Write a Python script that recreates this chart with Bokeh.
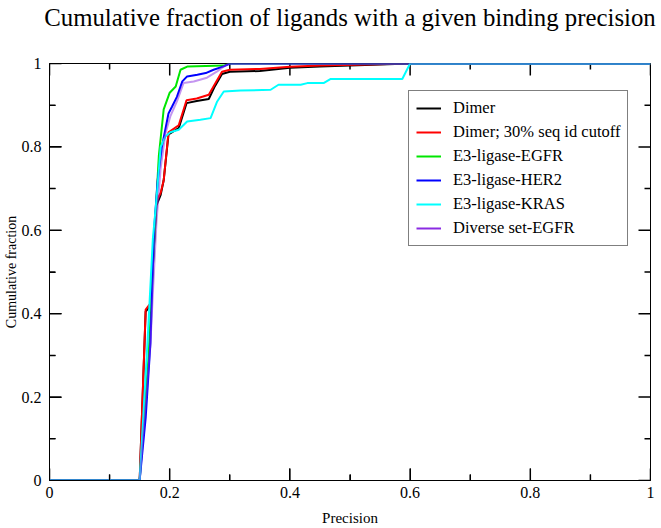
from bokeh.plotting import figure
from bokeh.models import (FixedTicker, CustomJSTickFormatter, Legend, LegendItem, Range1d,
                          LinearAxis)
from bokeh.embed import file_html
from bokeh.resources import INLINE

# ---- data ----
dimer_x = [0, 0.15, 0.16, 0.168, 0.178, 0.185, 0.19, 0.198, 0.215, 0.228, 0.245, 0.265,
           0.275, 0.287, 0.30, 0.35, 0.40, 0.45, 0.60, 1.0]
dimer_y = [0, 0, 0.405, 0.42, 0.66, 0.685, 0.72, 0.83, 0.845, 0.905, 0.91, 0.915,
           0.945, 0.975, 0.98, 0.982, 0.99, 0.993, 1.0, 1.0]

dimer30_x = [0, 0.15, 0.16, 0.168, 0.178, 0.185, 0.19, 0.198, 0.215, 0.228, 0.245, 0.265,
             0.275, 0.287, 0.30, 0.35, 0.40, 0.45, 0.60, 1.0]
dimer30_y = [0, 0, 0.41, 0.425, 0.67, 0.69, 0.72, 0.835, 0.852, 0.912, 0.916, 0.925,
             0.95, 0.98, 0.985, 0.987, 0.992, 0.995, 1.0, 1.0]

egfr_x = [0, 0.15, 0.165, 0.175, 0.182, 0.19, 0.20, 0.21, 0.218, 0.23, 0.29, 0.30, 1.0]
egfr_y = [0, 0, 0.3, 0.6, 0.78, 0.89, 0.93, 0.945, 0.985, 0.993, 0.995, 1.0, 1.0]

her2_x = [0, 0.15, 0.16, 0.168, 0.174, 0.18, 0.187, 0.198, 0.204, 0.212, 0.221, 0.229,
          0.246, 0.26, 0.273, 0.29, 0.30, 1.0]
her2_y = [0, 0, 0.15, 0.33, 0.6, 0.72, 0.80, 0.88, 0.897, 0.92, 0.957, 0.969,
          0.973, 0.977, 0.985, 0.993, 1.0, 1.0]

kras_x = [0, 0.15, 0.163, 0.172, 0.179, 0.185, 0.193, 0.201, 0.215, 0.229, 0.251, 0.268,
          0.279, 0.29, 0.318, 0.368, 0.381, 0.418, 0.429, 0.456, 0.468, 0.587, 0.60, 1.0]
kras_y = [0, 0, 0.33, 0.58, 0.69, 0.80, 0.825, 0.835, 0.841, 0.861, 0.865, 0.869,
          0.909, 0.933, 0.935, 0.937, 0.949, 0.949, 0.953, 0.953, 0.963, 0.963, 1.0, 1.0]

diverse_x = [0, 0.15, 0.168, 0.172, 0.178, 0.185, 0.193, 0.201, 0.212, 0.223, 0.24,
             0.262, 0.279, 0.29, 0.30, 1.0]
diverse_y = [0, 0, 0.33, 0.45, 0.62, 0.75, 0.833, 0.873, 0.909, 0.953, 0.957,
             0.966, 0.981, 0.993, 1.0, 1.0]

series_names = ["Dimer", "Dimer; 30% seq id cutoff", "E3-ligase-EGFR",
                "E3-ligase-HER2", "E3-ligase-KRAS", "Diverse set-EGFR"]
tick_values = [0, 0.2, 0.4, 0.6, 0.8, 1.0]
minor_values = [0.1, 0.3, 0.5, 0.7, 0.9]

title_text = "Cumulative fraction of ligands with a given binding precision"
x_label = "Precision"
y_label = "Cumulative fraction"

SERIF = "Liberation Serif"
FRAME_W, FRAME_H = 601, 418
NAN = float("nan")

p = figure(width=661, height=528, x_range=Range1d(0, 1), y_range=Range1d(0, 1),
           output_backend="svg", toolbar_location=None,
           x_axis_label=x_label, y_axis_label=y_label,
           min_border_left=49, min_border_right=11, min_border_top=62,
           min_border_bottom=48)
p.background_fill_color = "white"
p.border_fill_color = "white"
p.outline_line_color = "black"
p.outline_line_width = 1
p.xgrid.visible = False
p.ygrid.visible = False

fmt = CustomJSTickFormatter(code="return String(Math.round(tick*10)/10);")

for ax in p.xaxis + p.yaxis:
    ax.ticker = FixedTicker(ticks=tick_values, minor_ticks=minor_values)
    ax.formatter = fmt
    ax.major_tick_in = 12
    ax.major_tick_out = 0
    ax.minor_tick_in = 6
    ax.minor_tick_out = 0
    ax.axis_line_color = "black"
    ax.major_tick_line_color = "black"
    ax.minor_tick_line_color = "black"
    ax.major_label_text_font = SERIF
    ax.major_label_text_font_size = "16px"
    ax.major_label_text_color = "black"
    ax.axis_label_text_font = SERIF
    ax.axis_label_text_font_size = "15px"
    ax.axis_label_text_font_style = "normal"
    ax.axis_label_text_color = "black"
p.xaxis.major_label_standoff = 6
p.xaxis.axis_label_standoff = 9
p.yaxis.major_label_standoff = 8
p.yaxis.axis_label_standoff = 0
p.yaxis.axis_label_text_font_size = "14px"

# title carried by a tick-less axis above the frame
title_axis = LinearAxis(ticker=FixedTicker(ticks=[], minor_ticks=[]), axis_label=title_text)
title_axis.axis_line_color = None
title_axis.major_tick_in = 0
title_axis.major_tick_out = 0
title_axis.minor_tick_in = 0
title_axis.minor_tick_out = 0
title_axis.axis_label_text_font = SERIF
title_axis.axis_label_text_font_size = "24.8px"
title_axis.axis_label_text_font_style = "normal"
title_axis.axis_label_text_color = "black"
title_axis.axis_label_standoff = 33
p.add_layout(title_axis, "above")

# inward tick marks on all four sides, at the tick values (one broken line)
tick_x, tick_y = [], []
for vals, ln in ((tick_values, 12), (minor_values, 6)):
    lx, ly = ln / FRAME_W, ln / FRAME_H
    for v in vals:
        tick_x += [v, v, NAN, v, v, NAN, 0, lx, NAN, 1, 1 - lx, NAN]
        tick_y += [0, ly, NAN, 1, 1 - ly, NAN, v, v, NAN, v, v, NAN]
p.line(tick_x, tick_y, line_color="black", line_width=1.5)

colors = ["black", "#ff0000", "#00e600", "#0000ff", "#00ffff", "#8a2be2"]
xs = [dimer_x, dimer30_x, egfr_x, her2_x, kras_x, diverse_x]
ys = [dimer_y, dimer30_y, egfr_y, her2_y, kras_y, diverse_y]

items = []
for i, (x, y) in enumerate(zip(xs, ys)):
    alpha = 0.5 if i == 5 else 1.0
    r = p.line(x, y, line_color=colors[i], line_width=2, line_alpha=alpha)
    if i == 5:
        # legend proxy (outside the visible range) with the full-strength colour
        r = p.line([-2, -1], [-2, -2], line_color=colors[i], line_width=2)
    items.append(LegendItem(label=series_names[i], renderers=[r]))

legend = Legend(items=items, location=(359, 234))
legend.label_text_font = SERIF
legend.label_text_font_size = "16.5px"
legend.label_text_color = "black"
legend.glyph_width = 25
legend.glyph_height = 20
legend.label_height = 20
legend.label_standoff = 12
legend.spacing = 4
legend.padding = 7
legend.margin = 0
legend.border_line_color = "black"
legend.border_line_width = 1
legend.background_fill_color = "white"
legend.background_fill_alpha = 1
p.add_layout(legend, "center")

open("out.html", "w").write(file_html(p, INLINE))
